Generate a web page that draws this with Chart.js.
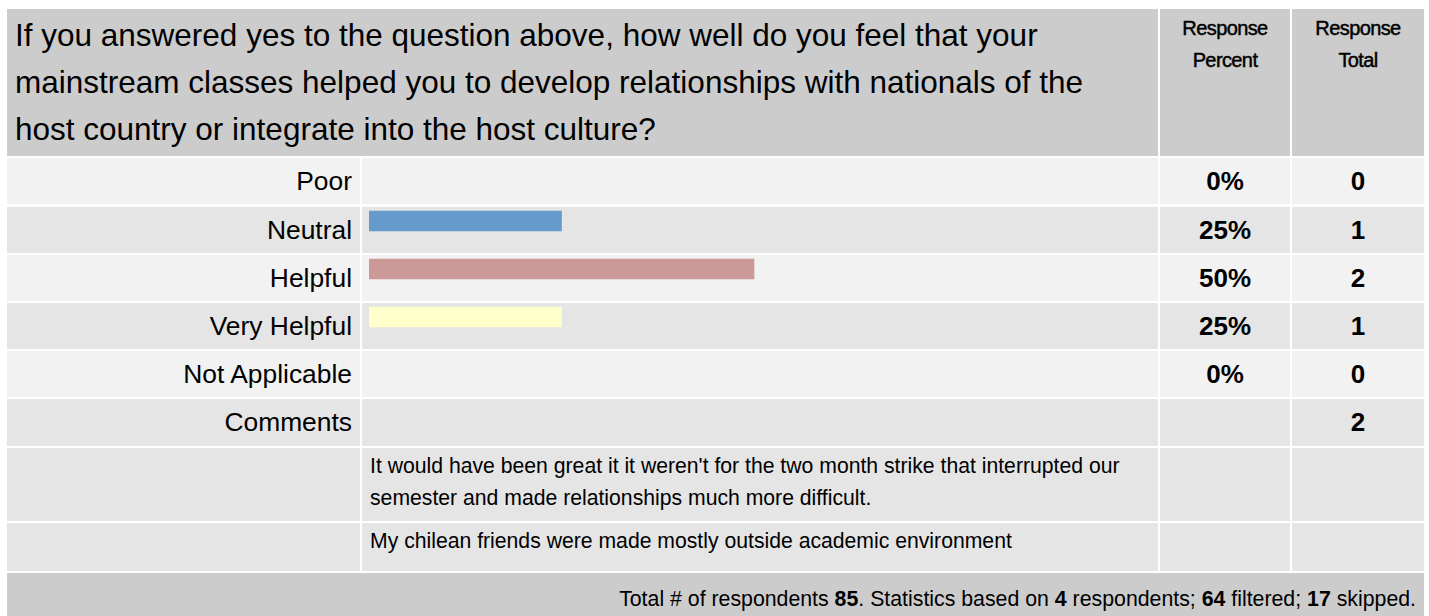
<!DOCTYPE html>
<html>
<head>
<meta charset="utf-8">
<script src="https://cdn.jsdelivr.net/npm/chart.js@4/dist/chart.umd.min.js"></script>
<style>
  body { margin: 0; background: #fff; font-family: "Liberation Sans", Arial, sans-serif; color: #000; }
  #page { position: relative; width: 1429px; height: 616px; overflow: hidden; }
  .cell { position: absolute; box-sizing: border-box; }
  .hd { background: #cccccc; }
  .lt { background: #f2f2f2; }
  .dk { background: #e5e5e5; }
  .lbl { text-align: right; padding-right: 8px; font-size: 26.4px; }
  .num { text-align: center; font-size: 26px; font-weight: bold; }
  #chartBox { position: absolute; left: 369px; top: 149px; width: 770px; height: 240px; }
</style>
</head>
<body>
<div id="page">
  <div id="chartBox"><canvas id="myChart"></canvas></div>
</div>
<script>
const question = "If you answered yes to the question above, how well do you feel that your mainstream classes helped you to develop relationships with nationals of the host country or integrate into the host culture?";
const categories = ['Poor', 'Neutral', 'Helpful', 'Very Helpful', 'Not Applicable'];
const percents = [0, 25, 50, 25, 0];
const totals = [0, 1, 2, 1, 0];
const barColors = ['#6699cc', '#6699cc', '#cc9999', '#ffffcc', '#99cc99'];
const commentTotal = 2;
const comments = [
  "It would have been great it it weren't for the two month strike that interrupted our semester and made relationships much more difficult.",
  "My chilean friends were made mostly outside academic environment"
];

// column / row layout of the table
const cols = [[7, 353], [362, 796], [1160, 130], [1292, 132]];
const rowTops = [158, 207, 255, 303, 351];
const page = document.getElementById('page');

function cell(x, y, w, h, cls, html, style) {
  const d = document.createElement('div');
  d.className = 'cell ' + cls;
  d.style.left = x + 'px'; d.style.top = y + 'px';
  d.style.width = w + 'px'; d.style.height = h + 'px';
  if (style) d.style.cssText += style;
  d.innerHTML = (html === undefined || html === null) ? '' : String(html);
  page.insertBefore(d, page.firstChild);
  return d;
}

const headStyle = 'font-size:20px;line-height:32px;text-align:center;padding-top:3px;letter-spacing:-0.6px;-webkit-text-stroke:0.45px #000;';

// header
cell(7, 9, 1151, 147, 'hd', question, 'font-size:31.5px;line-height:47px;padding:3px 55px 0 8px;');
cell(cols[2][0], 9, cols[2][1], 147, 'hd', 'Response<br>Percent', headStyle);
cell(cols[3][0], 9, cols[3][1], 147, 'hd', 'Response<br>Total', headStyle);

// answer rows
categories.forEach(function(c, i) {
  const y = rowTops[i];
  const bg = i % 2 === 0 ? 'lt' : 'dk';
  const lh = 'line-height:46px;';
  cell(cols[0][0], y, cols[0][1], 46, bg + ' lbl', c, lh);
  cell(cols[1][0], y, cols[1][1], 46, bg, '');
  cell(cols[2][0], y, cols[2][1], 46, bg + ' num', percents[i] + '%', lh);
  cell(cols[3][0], y, cols[3][1], 46, bg + ' num', totals[i], lh);
});

// comments
cell(cols[0][0], 399, cols[0][1], 47, 'dk lbl', 'Comments', 'line-height:46px;');
cell(cols[1][0], 399, cols[1][1], 47, 'dk', '');
cell(cols[2][0], 399, cols[2][1], 47, 'dk', '');
cell(cols[3][0], 399, cols[3][1], 47, 'dk num', commentTotal, 'line-height:46px;');

const cTops = [[448, 73], [523, 48]];
comments.forEach(function(t, i) {
  const y = cTops[i][0], h = cTops[i][1];
  cell(cols[0][0], y, cols[0][1], h, 'dk', '');
  cell(cols[1][0], y, cols[1][1], h, 'dk', t, 'font-size:21.2px;line-height:32px;padding:2px 20px 0 8px;');
  cell(cols[2][0], y, cols[2][1], h, 'dk', '');
  cell(cols[3][0], y, cols[3][1], h, 'dk', '');
});

// footer
cell(7, 573, 1417, 60, 'hd', 'Total # of respondents <b>85</b>. Statistics based on <b>4</b> respondents; <b>64</b> filtered; <b>17</b> skipped.',
  'font-size:21.3px;line-height:52px;text-align:right;padding-right:8px;');

// bars
const data = {
  labels: categories,
  datasets: [{
    data: percents,
    backgroundColor: function(ctx) {
      return percents[ctx.dataIndex] === 0 ? 'rgba(0,0,0,0)' : barColors[ctx.dataIndex];
    },
    borderWidth: 0,
    barThickness: 20
  }]
};
const config = {
  type: 'bar',
  data,
  options: {
    indexAxis: 'y',
    responsive: true,
    maintainAspectRatio: false,
    animation: false,
    layout: { padding: 0 },
    plugins: { legend: { display: false }, tooltip: { enabled: false } },
    scales: {
      x: { min: 0, max: 100, display: false },
      y: { display: false }
    }
  }
};
const myChart = new Chart(document.getElementById('myChart'), config);
</script>
</body>
</html>
